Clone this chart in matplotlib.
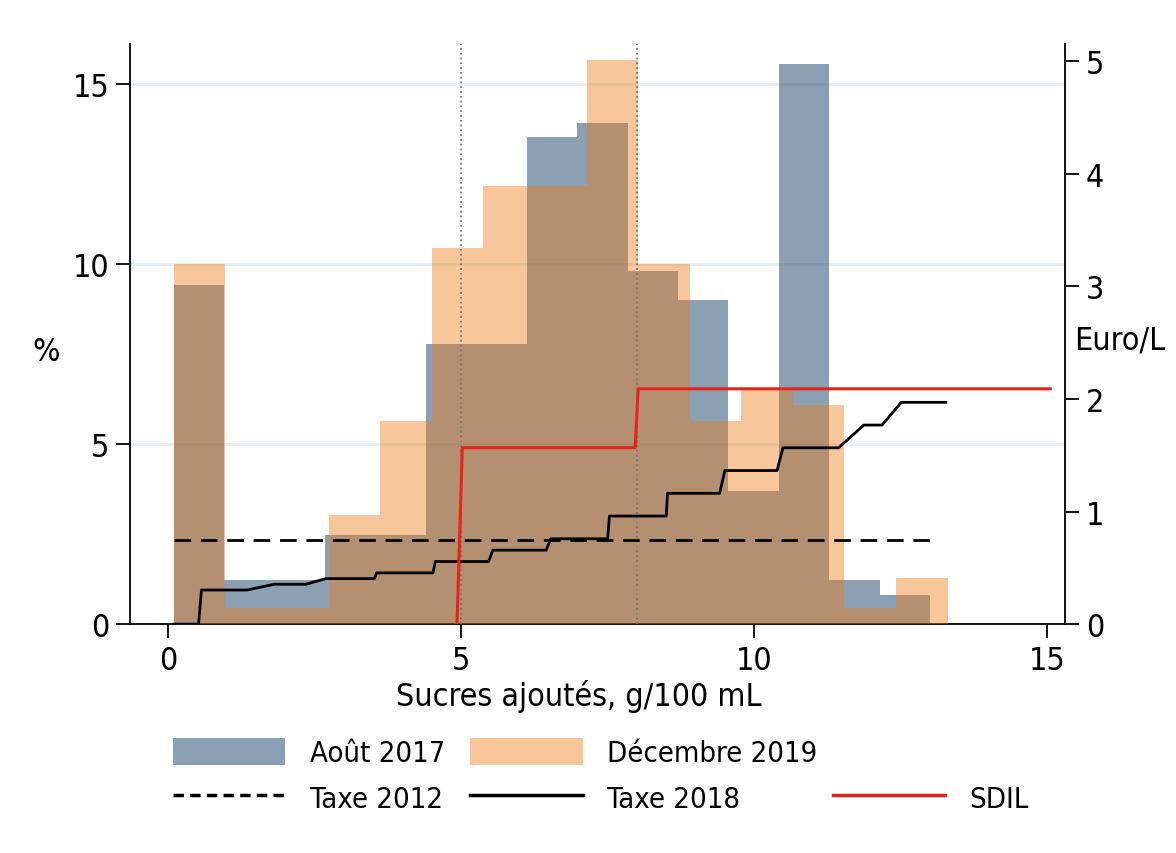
import numpy as np
import matplotlib.pyplot as plt
from matplotlib.patches import Patch
from matplotlib.lines import Line2D

plt.rcParams['font.family'] = ['DejaVu Sans']
plt.rcParams['font.stretch'] = 'condensed'

# histogram data (% of products), two surveys
bin_start = 0.1
w17 = 0.86
w19 = 0.88
h17 = [9.42, 1.23, 1.23, 2.47, 2.47, 7.79, 7.79, 13.52, 13.91, 9.81, 8.99, 3.71, 15.55, 1.23, 0.82]
h19 = [10.0, 0.44, 0.44, 3.04, 5.65, 10.44, 12.16, 12.16, 15.65, 10.0, 5.65, 6.52, 6.09, 0.44, 1.29]

# tax schedules (Euro/L axis)
t12_x = [0.1, 13.13]
t12_y = [0.75, 0.75]
t18_x = [0.1, 0.52, 0.57, 1.35, 1.81, 2.35, 2.69, 3.52, 3.56, 4.52, 4.56, 5.47, 5.54, 6.45,
         6.53, 7.50, 7.53, 8.50, 8.52, 9.41, 9.50, 10.39, 10.49, 11.44, 11.87, 12.18, 12.51, 13.27]
t18_y = [0, 0, 0.303, 0.303, 0.354, 0.354, 0.404, 0.404, 0.455, 0.455, 0.556, 0.556, 0.657, 0.657,
         0.758, 0.758, 0.96, 0.96, 1.162, 1.162, 1.364, 1.364, 1.566, 1.566, 1.768, 1.768, 1.97, 1.97]
sdil_x = [4.93, 5.02, 7.97, 8.02, 15.05]
sdil_y = [0, 1.567, 1.567, 2.09, 2.09]
thresholds = [5, 8]

blue = (0.10, 0.26, 0.42)
orange = (0.93, 0.48, 0.07)
red = '#e8231c'

fig = plt.figure(figsize=(11.76, 8.54), dpi=100)
ax = fig.add_axes([0.1105, 0.268, 0.795, 0.679])

edges17 = bin_start + w17 * np.arange(len(h17) + 1)
edges19 = bin_start + w19 * np.arange(len(h19) + 1)
ax.stairs(h17, edges17, fill=True, color=blue, alpha=0.5, lw=0, zorder=2)
ax.stairs(h19, edges19, fill=True, color=orange, alpha=0.42, lw=0, zorder=3)

for t in thresholds:
    ax.axvline(t, color='#777777', ls=':', lw=1.3, zorder=4)

ax.set_xlim(-0.65, 15.3)
ax.set_ylim(0, 16.1)
ax.set_xticks([0, 5, 10, 15])
ax.set_yticks([0, 5, 10, 15])
ax.grid(axis='y', color='#e6eff2', lw=2, zorder=0)
ax.set_axisbelow(True)
ax.spines['top'].set_visible(False)
ax.spines['right'].set_visible(False)
ax.tick_params(labelsize=23, length=10, width=1.3, pad=5)
ax.spines['left'].set_linewidth(1.3)
ax.spines['bottom'].set_linewidth(1.3)
ax.set_xlabel('Sucres ajoutés, g/100 mL', fontsize=23)
ax.set_ylabel('%', fontsize=23, rotation=0, va='center')
ax.xaxis.set_label_coords(0.48, -0.094)
ax.yaxis.set_label_coords(-0.09, 0.47)

ax2 = ax.twinx()
ax2.plot(t12_x, t12_y, color='black', ls=(0, (6, 3.5)), lw=2.0, zorder=5)
ax2.plot(t18_x, t18_y, color='black', lw=2.0, zorder=5)
ax2.plot(sdil_x, sdil_y, color=red, lw=2.2, zorder=6)
ax2.set_ylim(0, 5.15)
ax2.set_yticks([0, 1, 2, 3, 4, 5])
for s in ['top', 'left', 'bottom']:
    ax2.spines[s].set_visible(False)
ax2.spines['right'].set_linewidth(1.3)
ax2.tick_params(labelsize=23, length=10, width=1.3, pad=5)
ax2.set_ylabel('Euro/L', fontsize=23, rotation=0, va='center', ha='center')
ax2.yaxis.set_label_coords(1.059, 0.49)

# legend: one column at a time so the columns sit where the original has them
blank = Line2D([], [], color='none')
columns = [
    (0.147, [Patch(color=blue, alpha=0.5, lw=0),
             Line2D([], [], color='black', ls=(0, (3, 1.8)), lw=2.5)],
     ['Août 2017', 'Taxe 2012']),
    (0.400, [Patch(color=orange, alpha=0.42, lw=0),
             Line2D([], [], color='black', lw=2.5)],
     ['Décembre 2019', 'Taxe 2018']),
    (0.708, [blank, Line2D([], [], color=red, lw=2.5)],
     ['', 'SDIL']),
]
for x0, hs, ls in columns:
    fig.legend(hs, ls, loc='center left', bbox_to_anchor=(x0, 0.0913),
               frameon=False, fontsize=21, handlelength=3.85, handleheight=1.05,
               handletextpad=0.85, labelspacing=0.55, borderpad=0, borderaxespad=0)

fig.savefig('out.png', dpi=100, facecolor='white')
